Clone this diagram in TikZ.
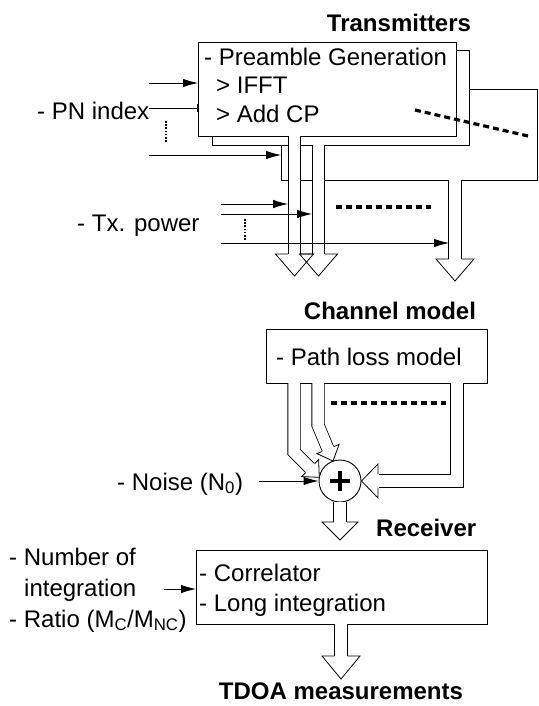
\documentclass[tikz,border=0pt]{standalone}
\usepackage{fontspec}
\setmainfont{Liberation Sans}
\usetikzlibrary{arrows.meta,calc}
\begin{document}
\begin{tikzpicture}[x=1pt,y=-1pt,
  lbl/.style={font=\fontsize{24}{28}\selectfont, inner sep=0pt, anchor=base west},
  ttl/.style={font=\fontsize{24}{28}\selectfont\bfseries, inner sep=0pt, anchor=base},
  blk/.style={draw, line width=0.9pt, fill=white, inner sep=0pt, anchor=north west},
  tarrow/.style={line width=0.9pt, -{Latex[length=15pt,width=8.5pt]}},
  shaft/.style={line width=0.8pt, double=white, double distance=11.5pt, line join=miter},
  headline/.style={line width=0.8pt, line join=miter},
  dots/.style={line width=1.2pt, dash pattern=on 1.6pt off 1.6pt},
  bigdash/.style={line width=3.2pt, dash pattern=on 6pt off 4pt}
]
\useasboundingbox (0,0) rectangle (538,706);

% ---------------- Transmitters ----------------
\node[ttl] (ttx) at (399,32) {Transmitters};
\node[blk, minimum width=256pt, minimum height=91pt] (tx3) at (281,89) {};
\coordinate (pn3) at (149,155);
\draw[tarrow] (pn3) -- (tx3.west |- pn3);
\node[blk, minimum width=257pt, minimum height=95pt] (tx2) at (212,50) {};
\coordinate (pn2) at (149,108);
\draw[tarrow] (pn2) -- (tx2.west |- pn2);
\node[blk, minimum width=258pt, minimum height=94pt] (tx1) at (198,42) {};
\coordinate (pn1) at (149,83);
\draw[tarrow] (pn1) -- (tx1.west |- pn1);
\node[lbl] (t1) at (204,65.5) {- Preamble Generation};
\node[lbl] (t2) at (216,94) {> IFFT};
\node[lbl] (t3) at (216,122.5) {> Add CP};
\node[lbl] (pn) at (37,120) {- PN index};
\coordinate (pd1) at (166,121); \coordinate (pd2) at (166,143);
\draw[dots] (pd1) -- (pd2);
\coordinate (dg1) at (415,110); \coordinate (dg2) at (528,136);
\draw[bigdash] (dg1) -- (dg2);

% hollow arrows out of the transmitters
\coordinate (s1a) at (294.5,136); \coordinate (s1b) at (294.5,254.5);
\coordinate (s2a) at (318.5,145); \coordinate (s2b) at (318.5,254.5);
\coordinate (s3a) at (455,180);   \coordinate (s3b) at (455,259.5);
\draw[shaft] (s1a) -- (s1b);
\draw[shaft] (s2a) -- (s2b);
\draw[shaft] (s3a) -- (s3b);
\fill[white] (288,254) -- (275.5,254) -- (294.5,276) -- (313.5,254) -- (301,254) -- cycle;
\fill[white] (312,254) -- (299.5,254) -- (318.5,276) -- (337.5,254) -- (325,254) -- cycle;
\draw[headline] (288,254) -- (275.5,254) -- (294.5,276) -- (313.5,254) -- (301,254);
\draw[headline] (312,254) -- (299.5,254) -- (318.5,276) -- (337.5,254) -- (325,254);
\filldraw[headline, fill=white] (448.5,259) -- (436,259) -- (455,281) -- (474,259) -- (461.5,259);

% Tx power inputs
\node[lbl] (txp) at (77,231) {- Tx. power};
\coordinate (pa) at (221,204); \coordinate (pb) at (221,214); \coordinate (pc) at (221,243);
\draw[tarrow] (pa) -- (288,204);
\draw[tarrow] (pb) -- (312,214);
\draw[tarrow] (pc) -- (449,243);
\coordinate (pe1) at (245,219); \coordinate (pe2) at (245,240);
\draw[dots] (pe1) -- (pe2);
\coordinate (hd1) at (336,207); \coordinate (hd2) at (431,207);
\draw[bigdash] (hd1) -- (hd2);

% ---------------- Channel model ----------------
\node[ttl] (tch) at (390,319.5) {Channel model};
\node[blk, minimum width=221pt, minimum height=54pt] (ch) at (266,329) {};
\node[lbl] (chl) at (276,365) {- Path loss model};

\node[draw, circle, line width=0.9pt, minimum size=42pt, inner sep=0pt, fill=white] (sum) at (340,481) {};
\draw[line width=4pt] ($(sum)+(-10,0)$) -- ($(sum)+(10,0)$);
\draw[line width=4pt] ($(sum)+(0,-10)$) -- ($(sum)+(0,10)$);

% bent hollow arrows into the adder
\draw[shaft] (294,383) -- (294,452) -- (310.1,468.1);
\filldraw[headline, fill=white] (314.7,463.5) -- (318.6,459.6) -- (319.3,477.3) -- (301.6,476.6) -- (305.5,472.7);
\draw[shaft] (318,383) -- (318,425) -- (328,449);
\filldraw[headline, fill=white] (334.0,446.5) -- (339.1,444.4) -- (333,461) -- (316.9,453.6) -- (322.0,451.5);
\draw[shaft] (457,383) -- (457,481) -- (378.5,481);
\filldraw[headline, fill=white] (378,474.45) -- (378,464) -- (sum.east) -- (378,498) -- (378,487.55);
\coordinate (cd1) at (331,403); \coordinate (cd2) at (446,403);
\draw[bigdash] (cd1) -- (cd2);

\node[lbl] (noise) at (117,490) {- Noise (N\textsubscript{0})};
\coordinate (nz) at (259,481);
\draw[tarrow] (nz) -- (sum.west);

% ---------------- Receiver ----------------
\draw[shaft] (sum.south) -- (340,522.5);
\filldraw[headline, fill=white] (333.5,522) -- (322,522) -- (340,540) -- (358,522) -- (346.5,522);
\node[lbl, font=\fontsize{24}{28}\selectfont\bfseries] (trx) at (376,536) {Receiver};
\node[blk, minimum width=291pt, minimum height=74pt] (rx) at (196,550) {};
\node[lbl] (r1) at (199,581) {- Correlator};
\node[lbl] (r2) at (199,611) {- Long integration};
\node[lbl] (n1) at (9,565) {- Number of};
\node[lbl] (n2) at (24,596) {integration};
\node[lbl] (n3) at (9,627) {- Ratio (M\textsubscript{C}/M\textsubscript{NC})};
\coordinate (ni) at (164,589);
\draw[tarrow] (ni) -- (rx.west |- ni);

\coordinate (o1) at (341,624); \coordinate (o2) at (341,656.5);
\draw[shaft] (o1) -- (o2);
\filldraw[headline, fill=white] (334.5,656) -- (322,656) -- (341,679) -- (360,656) -- (347.5,656);
\node[ttl] (tdoa) at (341,699) {TDOA measurements};
\end{tikzpicture}
\end{document}
